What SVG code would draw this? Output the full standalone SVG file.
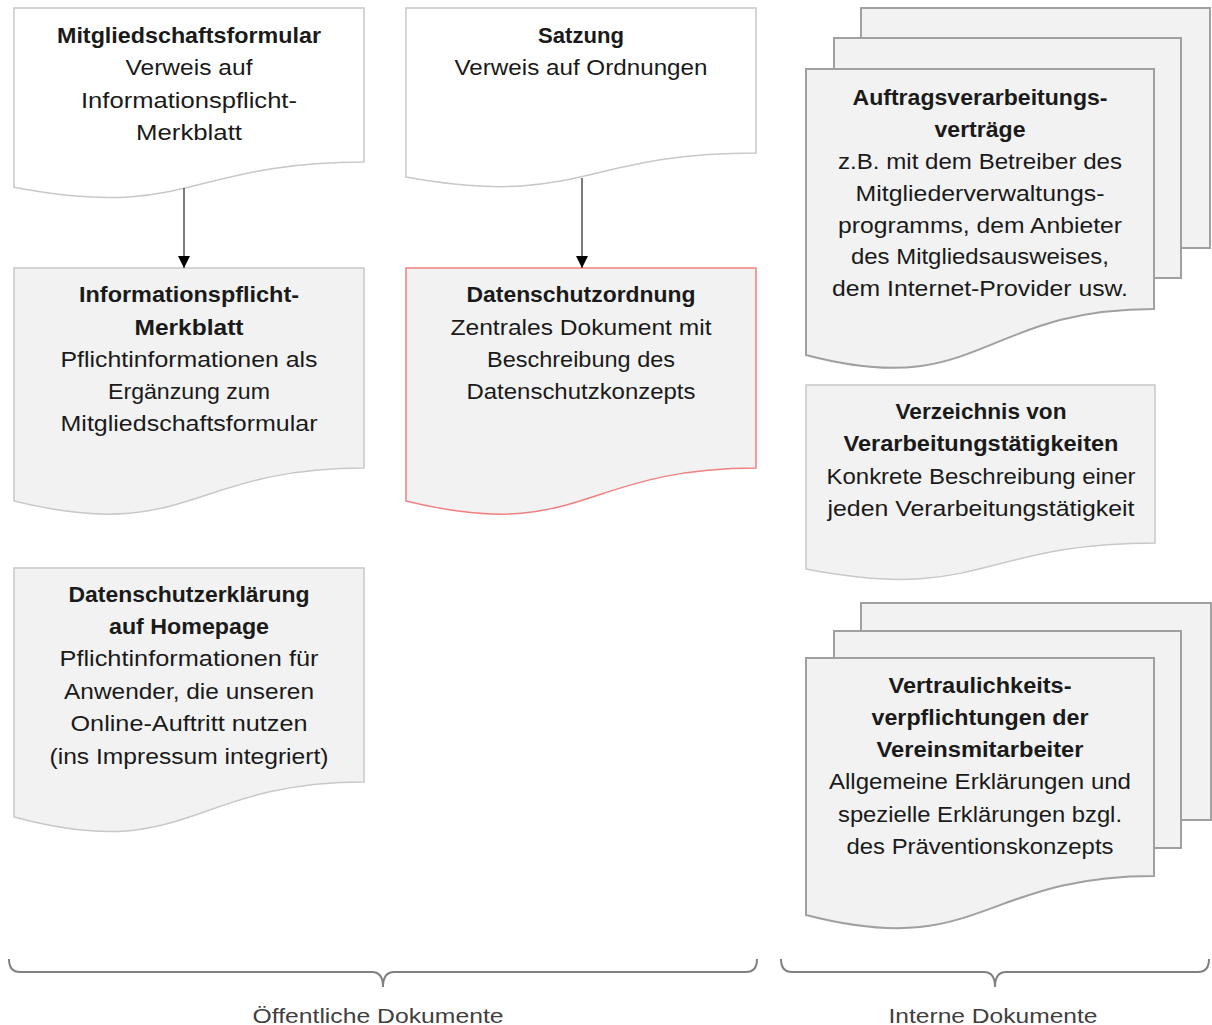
<svg xmlns="http://www.w3.org/2000/svg" width="1212" height="1025" viewBox="0 0 1212 1025">
<style>
text{font-family:"Liberation Sans",Arial,sans-serif;font-size:22px;fill:#1a1a1a;text-anchor:middle}
.b{font-weight:bold}
.lbl{font-size:21px;fill:#404040}
.doc{fill:#f2f2f2;stroke:#c8c8c8;stroke-width:1.5}
.white{fill:#ffffff}
.red{stroke:#f08080}
.multi{fill:#f2f2f2;stroke:#a0a0a0;stroke-width:2}
.brace{fill:none;stroke:#808080;stroke-width:2}
.conn{stroke:#505050;stroke-width:1.5;fill:none}
</style>
<defs>
<marker id="arr" viewBox="0 0 10 10" refX="10" refY="5" markerWidth="12" markerHeight="12" markerUnits="userSpaceOnUse" orient="auto">
<path d="M0,0 L10,5 L0,10 Z" fill="#000"/>
</marker>
</defs>

<g id="mitgliedschaftsformular">
<path class="doc white" d="M14,8 H364 V162 C189,162 189,220.7 14,187.3 Z"/>
<text x="189" y="43" class="b" textLength="264" lengthAdjust="spacingAndGlyphs">Mitgliedschaftsformular</text>
<text x="189" y="75" textLength="127" lengthAdjust="spacingAndGlyphs">Verweis auf</text>
<text x="189" y="108" textLength="216" lengthAdjust="spacingAndGlyphs">Informationspflicht-</text>
<text x="189" y="140" textLength="106" lengthAdjust="spacingAndGlyphs">Merkblatt</text>
</g>

<g id="satzung">
<path class="doc white" d="M406,8 H756 V153 C581,153 581,208.5 406,177 Z"/>
<text x="581" y="43" class="b" textLength="86" lengthAdjust="spacingAndGlyphs">Satzung</text>
<text x="581" y="75" textLength="253" lengthAdjust="spacingAndGlyphs">Verweis auf Ordnungen</text>
</g>

<g id="informationspflicht-merkblatt">
<path class="doc" d="M14,268 H364 V468 C189,468 189,544 14,501 Z"/>
<text x="189" y="302" class="b" textLength="220" lengthAdjust="spacingAndGlyphs">Informationspflicht-</text>
<text x="189" y="335" class="b" textLength="109" lengthAdjust="spacingAndGlyphs">Merkblatt</text>
<text x="189" y="367" textLength="257" lengthAdjust="spacingAndGlyphs">Pflichtinformationen als</text>
<text x="189" y="399" textLength="162" lengthAdjust="spacingAndGlyphs">Ergänzung zum</text>
<text x="189" y="431" textLength="257" lengthAdjust="spacingAndGlyphs">Mitgliedschaftsformular</text>
</g>

<g id="datenschutzordnung">
<path class="doc red" d="M406,268 H756 V468 C581,468 581,544 406,501 Z"/>
<text x="581" y="302" class="b" textLength="229" lengthAdjust="spacingAndGlyphs">Datenschutzordnung</text>
<text x="581" y="335" textLength="261" lengthAdjust="spacingAndGlyphs">Zentrales Dokument mit</text>
<text x="581" y="367" textLength="188" lengthAdjust="spacingAndGlyphs">Beschreibung des</text>
<text x="581" y="399" textLength="229" lengthAdjust="spacingAndGlyphs">Datenschutzkonzepts</text>
</g>

<g id="datenschutzerklaerung">
<path class="doc" d="M14,568 H364 V782 C189,782 189,864 14,817 Z"/>
<text x="189" y="602" class="b" textLength="241" lengthAdjust="spacingAndGlyphs">Datenschutzerklärung</text>
<text x="189" y="634" class="b" textLength="160" lengthAdjust="spacingAndGlyphs">auf Homepage</text>
<text x="189" y="666" textLength="259" lengthAdjust="spacingAndGlyphs">Pflichtinformationen für</text>
<text x="189" y="699" textLength="250" lengthAdjust="spacingAndGlyphs">Anwender, die unseren</text>
<text x="189" y="731" textLength="237" lengthAdjust="spacingAndGlyphs">Online-Auftritt nutzen</text>
<text x="189" y="764" textLength="279" lengthAdjust="spacingAndGlyphs">(ins Impressum integriert)</text>
</g>

<g id="auftragsverarbeitungsvertraege">
<rect class="multi" x="861" y="8" width="349" height="240"/>
<rect class="multi" x="834" y="38" width="347" height="240"/>
<path class="multi" d="M806,69 H1154 V309 C980,309 980,401 806,355 Z"/>
<text x="980" y="105" class="b" textLength="255" lengthAdjust="spacingAndGlyphs">Auftragsverarbeitungs-</text>
<text x="980" y="137" class="b" textLength="91" lengthAdjust="spacingAndGlyphs">verträge</text>
<text x="980" y="169" textLength="284" lengthAdjust="spacingAndGlyphs">z.B. mit dem Betreiber des</text>
<text x="980" y="201" textLength="249" lengthAdjust="spacingAndGlyphs">Mitgliederverwaltungs-</text>
<text x="980" y="233" textLength="284" lengthAdjust="spacingAndGlyphs">programms, dem Anbieter</text>
<text x="980" y="264" textLength="258" lengthAdjust="spacingAndGlyphs">des Mitgliedsausweises,</text>
<text x="980" y="296" textLength="296" lengthAdjust="spacingAndGlyphs">dem Internet-Provider usw.</text>
</g>

<g id="verzeichnis">
<path class="doc" d="M806,385 H1155 V543 C980.5,543 980.5,603 806,569 Z"/>
<text x="981" y="419" class="b" textLength="171" lengthAdjust="spacingAndGlyphs">Verzeichnis von</text>
<text x="981" y="451" class="b" textLength="275" lengthAdjust="spacingAndGlyphs">Verarbeitungstätigkeiten</text>
<text x="981" y="484" textLength="309" lengthAdjust="spacingAndGlyphs">Konkrete Beschreibung einer</text>
<text x="981" y="516" textLength="307" lengthAdjust="spacingAndGlyphs">jeden Verarbeitungstätigkeit</text>
</g>

<g id="vertraulichkeitsverpflichtungen">
<rect class="multi" x="861" y="603" width="350" height="217"/>
<rect class="multi" x="834" y="631" width="347" height="217"/>
<path class="multi" d="M806,658 H1154 V876 C980,876 980,960 806,915 Z"/>
<text x="980" y="693" class="b" textLength="183" lengthAdjust="spacingAndGlyphs">Vertraulichkeits-</text>
<text x="980" y="725" class="b" textLength="217" lengthAdjust="spacingAndGlyphs">verpflichtungen der</text>
<text x="980" y="757" class="b" textLength="207" lengthAdjust="spacingAndGlyphs">Vereinsmitarbeiter</text>
<text x="980" y="789" textLength="302" lengthAdjust="spacingAndGlyphs">Allgemeine Erklärungen und</text>
<text x="980" y="822" textLength="284" lengthAdjust="spacingAndGlyphs">spezielle Erklärungen bzgl.</text>
<text x="980" y="854" textLength="267" lengthAdjust="spacingAndGlyphs">des Präventionskonzepts</text>
</g>

<g id="connectors">
<line class="conn" x1="184" y1="188" x2="184" y2="268" marker-end="url(#arr)"/>
<line class="conn" x1="582" y1="178" x2="582" y2="268" marker-end="url(#arr)"/>
</g>

<g id="brace-oeffentlich">
<path class="brace" d="M9,959 Q9,972 20,972 L372,972 Q383,972 383,987 Q383,972 394,972 L746,972 Q757,972 757,959"/>
<text class="lbl" x="378" y="1023" textLength="251" lengthAdjust="spacingAndGlyphs">Öffentliche Dokumente</text>
</g>

<g id="brace-intern">
<path class="brace" d="M781,959 Q781,972 792,972 L984,972 Q995,972 995,987 Q995,972 1006,972 L1198,972 Q1209,972 1209,959"/>
<text class="lbl" x="993" y="1023" textLength="209" lengthAdjust="spacingAndGlyphs">Interne Dokumente</text>
</g>
</svg>
